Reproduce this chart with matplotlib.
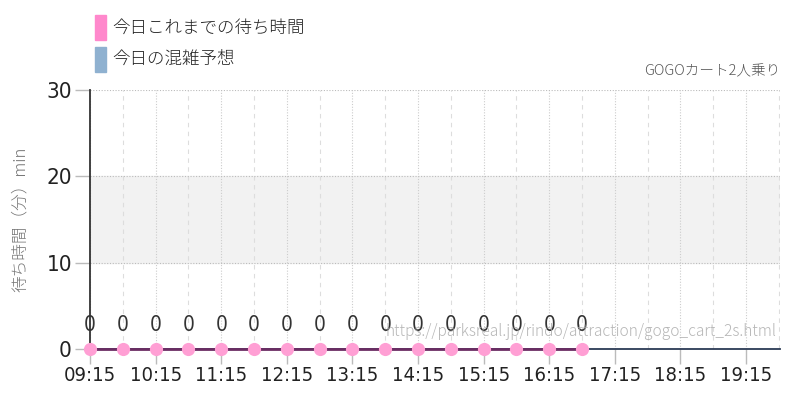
import numpy as np
import matplotlib.pyplot as plt
from matplotlib.patches import Rectangle

plt.rcParams['font.family'] = ['Noto Sans CJK JP', 'DejaVu Sans']

# waits so far today (minutes), every 30 min from 09:15
times = ["09:15", "09:45", "10:15", "10:45", "11:15", "11:45", "12:15", "12:45",
         "13:15", "13:45", "14:15", "14:45", "15:15", "15:45", "16:15", "16:45"]
waits = [0, 0, 0, 0, 0, 0, 0, 0, 0, 0, 0, 0, 0, 0, 0, 0]

tick_labels = ["09:15", "10:15", "11:15", "12:15", "13:15", "14:15",
               "15:15", "16:15", "17:15", "18:15", "19:15"]
y_ticks = [0, 10, 20, 30]
band = (10, 20)

legend_labels = ["今日これまでの待ち時間", "今日の混雑予想"]
legend_colors = ["#ff88cc", "#8fb1d0"]

title = "GOGOカート2人乗り"
url = "https://parksreal.jp/rindo/attraction/gogo_cart_2s.html"
ylabel = "待ち時間（分）min"


def to_min(s):
    h, m = s.split(":")
    return int(h) * 60 + int(m)


x = np.array([to_min(t) for t in times])
xt = np.array([to_min(t) for t in tick_labels])
x_min, x_max = to_min("09:15"), to_min("19:46")

num_font = dict(family="DejaVu Sans", stretch="condensed")

fig = plt.figure(figsize=(8, 4), dpi=100)
ax = fig.add_axes([0.1125, 0.1275, 0.8625, 0.6475])
ax.set_xlim(x_min, x_max)
ax.set_ylim(0, 30)

# busy band
ax.axhspan(band[0], band[1], color="#f2f2f2", zorder=0)

# grid
for v in np.arange(x_min, x_max, 30):
    if (v - x_min) % 60 == 0:
        ax.axvline(v, color="#cccccc", lw=0.8, ls=(0, (1, 1.5)), zorder=1)
    else:
        ax.axvline(v, color="#dddddd", lw=0.8, ls=(0, (4, 4)), zorder=1)
for yv in y_ticks[1:]:
    ax.axhline(yv, color="#bbbbbb", lw=0.8, ls=(0, (1, 1.5)), zorder=1)

for s in ["top", "right"]:
    ax.spines[s].set_visible(False)
ax.spines["left"].set_color("#333333")
ax.spines["left"].set_linewidth(1.3)
ax.spines["bottom"].set_color("#2b3a55")
ax.spines["bottom"].set_linewidth(1.3)

ax.set_yticks(y_ticks)
ax.set_yticklabels([str(v) for v in y_ticks], fontsize=16, **num_font)
ax.set_xticks(xt)
ax.set_xticklabels(tick_labels, fontsize=14.5, **num_font)
ax.tick_params(axis="y", length=11, color="#bbbbbb", width=1, pad=2, labelcolor="#222222")
ax.tick_params(axis="x", length=11, color="#bbbbbb", width=1, pad=1, labelcolor="#222222")

# series
ax.plot(x, waits, color="#6b2d63", lw=2, zorder=3, clip_on=False)
ax.scatter(x, waits, s=90, color="#ff9fd4", zorder=4, clip_on=False, linewidths=0)
for xi, w in zip(x, waits):
    ax.annotate(str(w), (xi, w), xytext=(0, 10), textcoords="offset points",
                ha="center", va="bottom", fontsize=15, color="#333333", **num_font)

ax.text(0.995, 0.035, url, transform=ax.transAxes, ha="right", va="bottom",
        fontsize=11.2, color="#aaaaaa", alpha=0.85, zorder=5, fontweight="light")

ax.set_ylabel(ylabel, color="#777777", fontsize=12, fontweight="light")
ax.yaxis.set_label_coords(-0.088, 0.5)

fig.text(0.975, 0.805, title, ha="right", va="bottom", fontsize=10.5,
         color="#555555", fontweight="light")

# legend
for i, (lab, col) in enumerate(zip(legend_labels, legend_colors)):
    yb = 1 - (40 + i * 32) / 400
    fig.patches.append(Rectangle((95 / 800, yb), 11 / 800, 25 / 400, color=col,
                                 transform=fig.transFigure, figure=fig))
    fig.text(112 / 800, yb + 12.5 / 400, lab, ha="left", va="center",
             fontsize=12.6, color="#222222", fontweight="light")

fig.savefig("out.png", dpi=100)
